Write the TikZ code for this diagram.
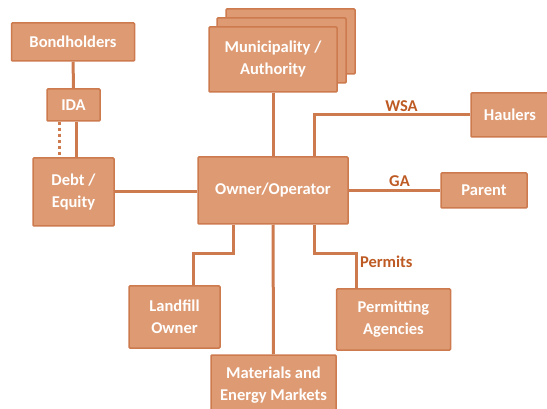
\documentclass[tikz,border=0pt]{standalone}
\usepackage{fontspec}
\setmainfont{Carlito}
\definecolor{boxfill}{RGB}{222,155,115}
\definecolor{boxrim}{RGB}{204,122,78}
\definecolor{labtext}{RGB}{190,90,35}
\tikzset{
  party/.style={draw=boxrim,fill=boxfill,line width=1.5pt,rounded corners=1pt,
    text=white,font=\bfseries\fontsize{16.5}{22}\selectfont,align=center,inner sep=0pt},
  link/.style={draw=boxrim,line width=3pt},
  tag/.style={text=labtext,font=\bfseries\fontsize{16.5}{19}\selectfont,inner sep=2pt}
}
\begin{document}
\begin{tikzpicture}[x=1pt,y=-1pt]
  \useasboundingbox (0,0) rectangle (547,409);
  % stacked copies behind the municipality box
  \draw[party] (226,9) rectangle (355,74);
  \draw[party] (217,18) rectangle (346,83);
  \node[party,minimum width=128pt,minimum height=65pt] (muni) at (273,59.5) {Municipality /\\Authority};
  \node[party,minimum width=123pt,minimum height=38pt] (bond) at (73,42) {Bondholders};
  \node[party,minimum width=53pt,minimum height=32pt] (ida) at (73.5,105) {IDA};
  \node[party,minimum width=81pt,minimum height=68pt] (debt) at (73.5,192) {Debt /\\Equity};
  \node[party,minimum width=150pt,minimum height=67pt] (owner) at (273,190.5) {Owner/Operator};
  \node[party,minimum width=78pt,minimum height=44pt] (haul) at (510,115) {Haulers};
  \node[party,minimum width=86pt,minimum height=35pt] (parent) at (484,190.5) {Parent};
  \node[party,minimum width=91pt,minimum height=62pt] (land) at (174.5,317) {Landfill\\Owner};
  \node[party,minimum width=125pt,minimum height=60pt] (mat) at (273.5,385) {Materials and\\Energy Markets};
  \node[party,minimum width=114pt,minimum height=61pt] (perm) at (393.5,319.5) {Permitting\\Agencies};
  % connectors
  \draw[link] (bond) -- (ida);
  \draw[link] ([xshift=3pt]ida.south) -- ([xshift=3pt]ida.south |- debt.north);
  \draw[link,dashed] ([xshift=-14pt]ida.south) -- ([xshift=-14pt]ida.south |- debt.north);
  \draw[link] (debt.east) -- (debt.east -| owner.west);
  \draw[link] (muni) -- (owner);
  \draw[link] ([xshift=41pt]owner.north) |- (haul.west) node[tag,pos=0.78,above]{WSA};
  \draw[link] (owner.east) -- (parent.west) node[tag,midway,above,xshift=5pt]{GA};
  \draw[link] ([xshift=-40pt]owner.south) -- ++(0,29) -| ([xshift=19pt]land.north);
  \draw[link] (owner) -- (mat);
  \draw[link] ([xshift=41pt]owner.south) -- ++(0,29) -| ([xshift=-37pt]perm.north)
    node[tag,pos=0.62,right]{Permits};
\end{tikzpicture}
\end{document}
